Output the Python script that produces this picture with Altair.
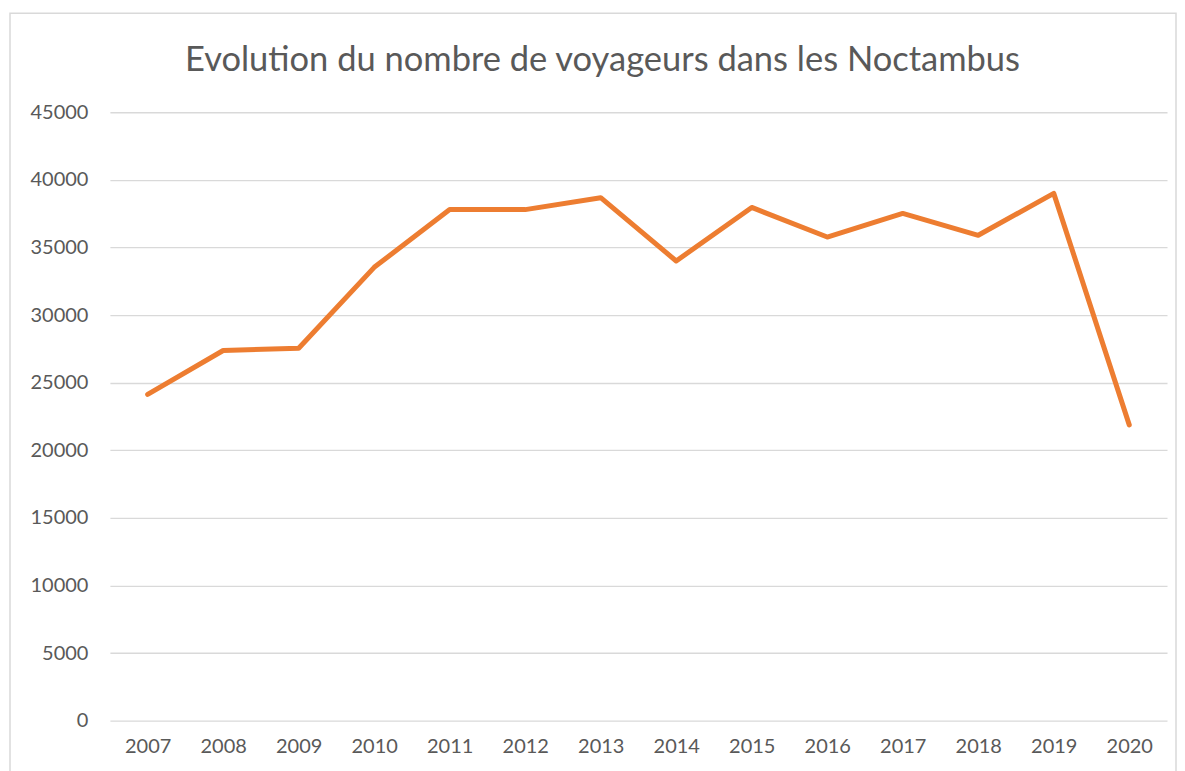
import altair as alt
import pandas as pd

years = ["2007", "2008", "2009", "2010", "2011", "2012", "2013",
         "2014", "2015", "2016", "2017", "2018", "2019", "2020"]
voyageurs = [24130, 27380, 27540, 33530, 37800, 37800, 38680,
             34000, 37960, 35770, 37520, 35900, 39000, 21880]
title_text = "Evolution du nombre de voyageurs dans les Noctambus"

df = pd.DataFrame({"annee": years, "voyageurs": voyageurs})

FONT = "Lato"
GREY = "#595959"

line = alt.Chart(df).mark_line(color="#ED7D31", strokeWidth=5, strokeCap="round",
                               strokeJoin="round").encode(
    x=alt.X("annee:O", sort=years,
            scale=alt.Scale(type="point", padding=0.5),
            axis=alt.Axis(title=None, labelAngle=0, ticks=False, domain=False,
                          labelFontSize=20, labelColor=GREY, labelFont=FONT,
                          labelPadding=16, grid=False)),
    y=alt.Y("voyageurs:Q",
            scale=alt.Scale(domain=[0, 45000], nice=False),
            axis=alt.Axis(title=None, values=list(range(0, 45001, 5000)),
                          domain=False, ticks=False, format="d",
                          labelFontSize=20, labelColor=GREY, labelFont=FONT,
                          labelPadding=22, gridColor="#d9d9d9", gridWidth=1.3)),
)

border = alt.Chart(pd.DataFrame({"k": [0]})).mark_rect(
    fill=None, stroke="#d9d9d9", strokeWidth=1.5, clip=False
).encode(
    x=alt.value(-100), x2=alt.value(1067),
    y=alt.value(-99), y2=alt.value(670),
)

title = alt.Chart(pd.DataFrame({"t": [title_text]})).mark_text(
    font=FONT, fontSize=34.5, color=GREY, align="center", baseline="alphabetic",
    clip=False
).encode(
    text="t:N", x=alt.value(493), y=alt.value(-41),
)

chart = alt.layer(border, line, title).properties(
    width=1058, height=609,
    autosize=alt.AutoSizeParams(type="none"),
    padding={"left": 102, "top": 104, "right": 10, "bottom": 50},
).configure_view(stroke=None)

chart.save("out.html", embed_options={"renderer": "svg", "actions": False})
